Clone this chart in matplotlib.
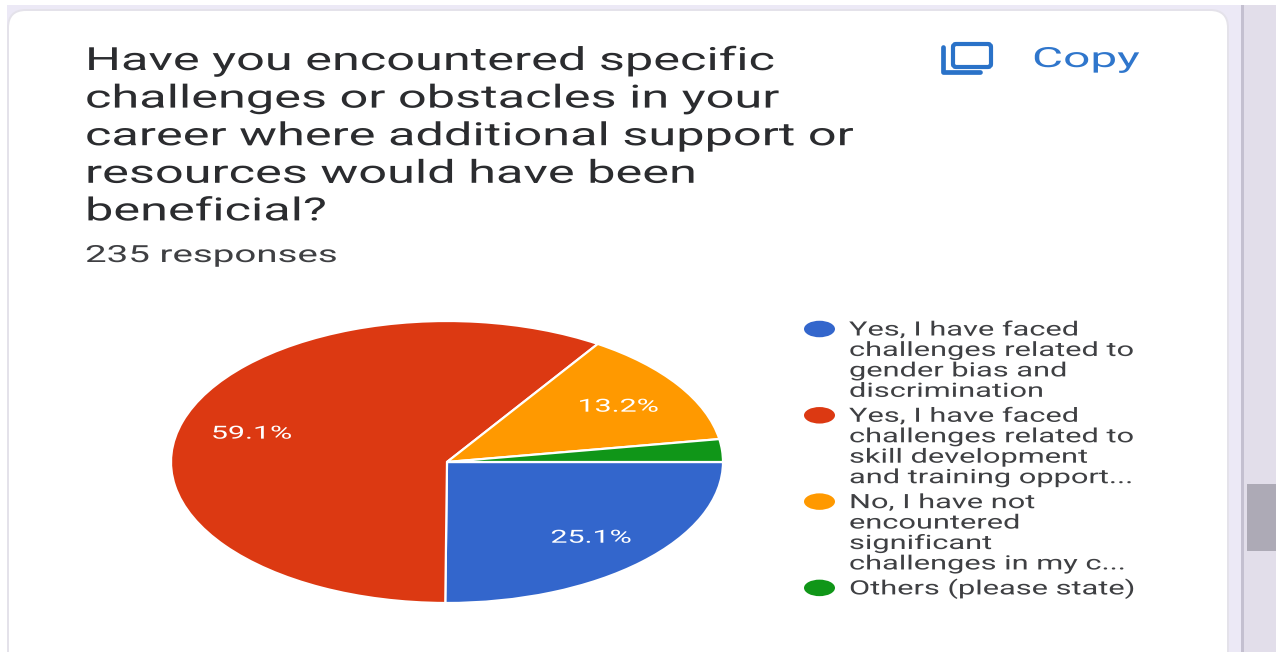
import matplotlib
matplotlib.use("Agg")
import matplotlib.pyplot as plt
from matplotlib.patches import FancyBboxPatch, Ellipse, Rectangle
from matplotlib.patheffects import AbstractPathEffect
from matplotlib.transforms import Affine2D

W, H = 1276, 652

question_lines = [
    "Have you encountered specific",
    "challenges or obstacles in your",
    "career where additional support or",
    "resources would have been",
    "beneficial?",
]
response_count = "235 responses"
copy_label = "Copy"

shares = [25.1, 59.1, 13.2, 2.6]
slice_colors = ["#3366cc", "#dc3912", "#ff9900", "#109618"]
legend_entries = [
    ["Yes, I have faced", "challenges related to", "gender bias and", "discrimination"],
    ["Yes, I have faced", "challenges related to", "skill development", "and training opport..."],
    ["No, I have not", "encountered", "significant", "challenges in my c..."],
    ["Others (please state)"],
]


class WidenGlyphs(AbstractPathEffect):
    """Scale text outlines horizontally about a fixed anchor."""

    def __init__(self, anchor_px, factor):
        super().__init__()
        self.anchor_px = anchor_px
        self.factor = factor

    def draw_path(self, renderer, gc, tpath, affine, rgbFace=None):
        widen = Affine2D().translate(-self.anchor_px, 0).scale(self.factor, 1).translate(self.anchor_px, 0)
        renderer.draw_path(gc, tpath, affine + widen, rgbFace)


fig = plt.figure(figsize=(W / 100, H / 100), dpi=100, facecolor="white")
page = fig.add_axes([0, 0, 1, 1])
page.set_xlim(0, W)
page.set_ylim(H, 0)
page.axis("off")

# Page background, card and scrollbar
page.add_patch(Rectangle((7, 5), 1236, H, fc="#ece9f6", ec="none"))
page.add_patch(Rectangle((1241, 5), 2.5, H, fc="#c4c0d0", ec="none"))
page.add_patch(Rectangle((1243.5, 5), 33, H, fc="#e2deea", ec="none"))
page.add_patch(Rectangle((1247, 484), 29, 67, fc="#adaab6", ec="none"))
page.add_patch(FancyBboxPatch((22, 24), 1192, 640, boxstyle="round,pad=14,rounding_size=18",
                              fc="white", ec="#e4e2ea", lw=1.4))


def put(x, y, s, size, stretch, color, **kw):
    page.text(x, y, s, fontsize=size, color=color, family="Roboto", va="baseline", ha="left",
              path_effects=[WidenGlyphs(x, stretch)], **kw)


for i, line in enumerate(question_lines):
    put(85, 70 + i * 37.6, line, 23, 1.58, "#2b2c2f")
put(85, 262, response_count, 17, 1.63, "#3f4043")
put(1032, 67, copy_label, 20, 1.72, "#2f76cc")

# Copy icon
page.add_patch(FancyBboxPatch((953, 44), 38, 23, boxstyle="round,pad=0,rounding_size=3",
                              fc="none", ec="#2a72c8", lw=3.0))
page.plot([942.5, 942.5, 980], [47, 71.5, 71.5], color="#2a72c8", lw=3.4, solid_capstyle="round")

# Pie stretched to an ellipse by its axes box
pie_box = [171 / W, 1 - 603 / H, 552 / W, 282 / H]
ax = fig.add_axes(pie_box)
wedges, _, pct = ax.pie(
    shares, colors=slice_colors, startangle=0, counterclock=False, radius=1,
    autopct=lambda p: f"{p:.1f}%" if p > 5 else "", pctdistance=0.74,
    wedgeprops={"edgecolor": "white", "linewidth": 1.6},
    textprops={"color": "white", "fontsize": 13, "family": "Roboto"},
)
ax.set_aspect("auto")
ax.set_xlim(-1, 1)
ax.set_ylim(-1, 1)
ax.patch.set_alpha(0)
fig.canvas.draw()
for t in pct:
    box = t.get_window_extent()
    t.set_path_effects([WidenGlyphs((box.x0 + box.x1) / 2, 1.68)])
    tx, ty = t.get_position()
    t.set_position((tx, ty - 0.012))

# Legend
y = 335.5
for entry, col in zip(legend_entries, slice_colors):
    page.add_patch(Ellipse((819.5, y - 6.5), 31, 16.5, fc=col, ec="none"))
    for line in entry:
        put(849, y, line, 14.2, 1.56, "#3f4043")
        y += 20.45
    y += 4.5 if len(entry) == 4 else 0

fig.savefig("out.png", dpi=100, facecolor="white")
